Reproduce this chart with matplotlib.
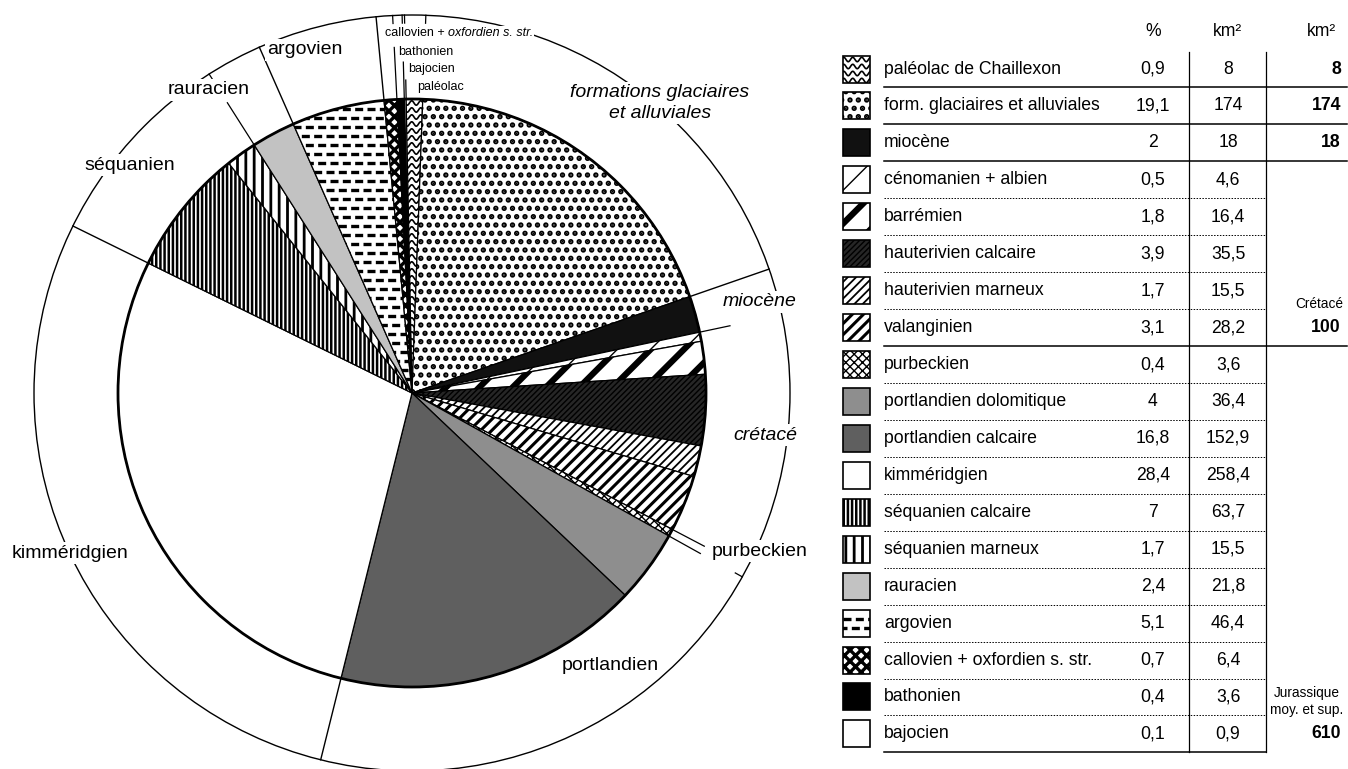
import matplotlib
matplotlib.use('Agg')
import numpy as np
import matplotlib.pyplot as plt
from matplotlib.patches import Rectangle, Circle

plt.rcParams['font.family'] = ['Liberation Sans', 'DejaVu Sans']

# --- Données (ordre du tableau) ---
names = ["paléolac de Chaillexon", "form. glaciaires et alluviales", "miocène",
         "cénomanien + albien", "barrémien", "hauterivien calcaire", "hauterivien marneux",
         "valanginien", "purbeckien", "portlandien dolomitique", "portlandien calcaire",
         "kimméridgien", "séquanien calcaire", "séquanien marneux", "rauracien", "argovien",
         "callovien + oxfordien s. str.", "bathonien", "bajocien"]
pct = [0.9, 19.1, 2, 0.5, 1.8, 3.9, 1.7, 3.1, 0.4, 4, 16.8, 28.4, 7, 1.7, 2.4, 5.1, 0.7, 0.4, 0.1]
km2 = [8, 174, 18, 4.6, 16.4, 35.5, 15.5, 28.2, 3.6, 36.4, 152.9, 258.4, 63.7, 15.5, 21.8,
       46.4, 6.4, 3.6, 0.9]

# totaux par ensemble (dernière colonne)
group_titles = ["", "", "", "Crétacé", "Jurassique\nmoy. et sup."]
group_totals = [8, 174, 18, 100, 610]
group_last_row = [0, 1, 2, 7, 18]

# ordre des secteurs (sens horaire depuis le haut)
pie_order = [18] + list(range(18))

# étiquettes de la couronne
ring_labels = ["formations glaciaires\net alluviales", "miocène", "crétacé", "purbeckien",
               "portlandien", "kimméridgien", "séquanien", "rauracien", "argovien"]
ring_italic = [True, True, True, False, False, False, False, False, False]
ring_pos = [(660, 103), (760, 302), (765, 435), (760, 551), (610, 665), (70, 553),
            (130, 165), (209, 90), (305, 50)]

# --- Géométrie (pixels) ---
W, H = 1348, 769
CX, CY = 412, 393
R_PIE = 294
R_RING = 378
START = 91.5

# --- Styles des figurés ---
STYLE = {
    "paléolac de Chaillexon": dict(custom='waves'),
    "form. glaciaires et alluviales": dict(hatch='..', hlw=2.6),
    "miocène": dict(fc='#111111'),
    "cénomanien + albien": dict(hatch='/', hlw=1.0),
    "barrémien": dict(hatch='/', hlw=4.5),
    "hauterivien calcaire": dict(fc='#262626', hatch='//////', hlw=1.0),
    "hauterivien marneux": dict(hatch='////', hlw=1.3),
    "valanginien": dict(hatch='///', hlw=2.2),
    "purbeckien": dict(hatch='xxxx', hlw=1.0),
    "portlandien dolomitique": dict(fc='#8e8e8e'),
    "portlandien calcaire": dict(fc='#5f5f5f'),
    "kimméridgien": dict(),
    "séquanien calcaire": dict(hatch='||||', hlw=1.8),
    "séquanien marneux": dict(hatch='||', hlw=2.0),
    "rauracien": dict(fc='#c2c2c2'),
    "argovien": dict(custom='dashes'),
    "callovien + oxfordien s. str.": dict(hatch='xxx', hlw=2.4),
    "bathonien": dict(fc='black'),
    "bajocien": dict(),
}

fig = plt.figure(figsize=(W / 100, H / 100), dpi=100)
ax = fig.add_axes([0, 0, 1, 1])


def apply_style(patch, name):
    st = STYLE[name]
    patch.set_facecolor(st.get('fc', 'white'))
    if 'hatch' in st:
        patch.set_hatch(st['hatch'])
        if hasattr(patch, 'set_hatch_linewidth'):
            patch.set_hatch_linewidth(st['hlw'])
    kind = st.get('custom')
    if kind is None:
        return
    v = patch.get_patch_transform().transform(patch.get_path().vertices)
    x0, x1 = v[:, 0].min(), v[:, 0].max()
    y0, y1 = v[:, 1].min(), v[:, 1].max()
    if kind == 'waves':
        xs = np.arange(x0, x1 + 1, 0.5)
        for yy in np.arange(y0 + 4, y1, 7):
            ln, = ax.plot(xs, yy + 2.2 * np.sin(2 * np.pi * xs / 9), color='black', lw=1.2, zorder=2)
            ln.set_clip_path(patch)
    elif kind == 'dashes':
        for k, yy in enumerate(np.arange(y0 + 9, y1, 9)):
            off = 4 if k % 2 else 0
            ln, = ax.plot([x0 - off, x1], [yy, yy], color='black', lw=2.4, dashes=[2.4, 1.3], zorder=2)
            ln.set_clip_path(patch)


# --- Camembert ---
pie_vals = [pct[i] for i in pie_order]
wedges, _ = ax.pie(pie_vals, startangle=-START, counterclock=True, radius=R_PIE,
                   center=(CX, CY), wedgeprops=dict(edgecolor='black', linewidth=0.9))
ax.set_xlim(0, W)
ax.set_ylim(H, 0)
ax.set_aspect('equal')
ax.axis('off')

for w, i in zip(wedges, pie_order):
    apply_style(w, names[i])

ax.add_patch(Circle((CX, CY), R_PIE, fill=False, lw=2.0, ec='black', zorder=4))
ax.add_patch(Circle((CX, CY), R_RING, fill=False, lw=1.0, ec='black', zorder=1))

cum = np.cumsum(pie_vals) / np.sum(pie_vals) * 360


def bound(name):
    j = pie_order.index(names.index(name))
    return START - cum[j]


def pt(a, r):
    return CX + r * np.cos(np.radians(a)), CY - r * np.sin(np.radians(a))


def radial(a, r0, r1, lw=1.0):
    p0, p1 = pt(a, r0), pt(a, r1)
    ax.plot([p0[0], p1[0]], [p0[1], p1[1]], color='black', lw=lw, zorder=3)


# limites des ensembles jusqu'au cercle extérieur
for n in ["form. glaciaires et alluviales", "portlandien calcaire", "kimméridgien",
          "rauracien", "argovien"]:
    radial(bound(n), R_PIE, R_RING)

# traits de rappel vers les étiquettes
for n, r in [("miocène", 325), ("valanginien", 330), ("purbeckien", 330),
             ("séquanien marneux", 344), ("callovien + oxfordien s. str.", 346),
             ("bathonien", 331), ("bajocien", 313)]:
    radial(bound(n), R_PIE, r, lw=0.9)

# petites graduations sur le cercle extérieur
for n in ["séquanien marneux", "purbeckien", "callovien + oxfordien s. str.", "bathonien",
          "bajocien", "paléolac de Chaillexon"]:
    radial(bound(n), R_RING - 8, R_RING, lw=0.9)

# étiquettes de la couronne
for txt, (x, y), it in zip(ring_labels, ring_pos, ring_italic):
    ax.text(x, y, txt, ha='center', va='center', fontsize=14, linespacing=1.35,
            style='italic' if it else 'normal', zorder=5,
            bbox=dict(fc='white', ec='none', pad=1.5))

small = dict(fontsize=9, ha='left', va='center', zorder=5)
ax.text(398, 52, "bathonien", **small)
ax.text(408, 69, "bajocien", **small)
ax.text(417, 87, "paléolac", **small)
t1 = ax.text(385, 33, "callovien + ", bbox=dict(fc='white', ec='none', pad=0.5), **small)
fig.canvas.draw()
bb = t1.get_window_extent(fig.canvas.get_renderer())
xe = ax.transData.inverted().transform((bb.x1, bb.y0))[0]
ax.text(xe, 33, "oxfordien s. str.", style='italic',
        bbox=dict(fc='white', ec='none', pad=0.5), **small)

# --- Tableau ---
Y0, DY = 69, 36.94
X_BOX, X_TXT, X_PCT, X_KM, X_TOT = 843, 884, 1153, 1228, 1341
X_V1, X_V2, X_END = 1189, 1266, 1347
FS = 12.7


def fmt(v):
    return ('%g' % v).replace('.', ',')


ax.text(X_PCT, 32, "%", ha='center', va='center', fontsize=FS)
ax.text(X_KM, 32, "km²", ha='center', va='center', fontsize=FS)
ax.text(1322, 32, "km²", ha='center', va='center', fontsize=FS)

for i, name in enumerate(names):
    y = Y0 + DY * i
    box = Rectangle((X_BOX, y - 13.5), 27, 27, ec='black', lw=1.2, zorder=2)
    ax.add_patch(box)
    apply_style(box, name)
    ax.text(X_TXT, y, name, ha='left', va='center', fontsize=FS)
    ax.text(X_PCT, y, fmt(pct[i]), ha='center', va='center', fontsize=FS)
    ax.text(X_KM, y, fmt(km2[i]), ha='center', va='center', fontsize=FS)
    yl = y + DY / 2
    if i in group_last_row:
        xr = X_V2 if i == len(names) - 1 else X_END
        ax.plot([X_TXT, xr], [yl, yl], color='black', lw=1.1)
    else:
        ax.plot([X_TXT, X_V2], [yl, yl], color='black', lw=0.7, dashes=[1.5, 1.5])

for x in (X_V1, X_V2):
    ax.plot([x, x], [52, Y0 + DY * 18 + DY / 2], color='black', lw=0.9)

for title, tot, last in zip(group_titles, group_totals, group_last_row):
    y = Y0 + DY * last
    ax.text(X_TOT, y, fmt(tot), ha='right', va='center', fontsize=FS, fontweight='bold')
    if title:
        ax.text(X_TOT + 2, y - 17, title, ha='right', va='bottom', fontsize=9.8,
                multialignment='center', linespacing=1.25)

fig.savefig('out.png', dpi=100)
